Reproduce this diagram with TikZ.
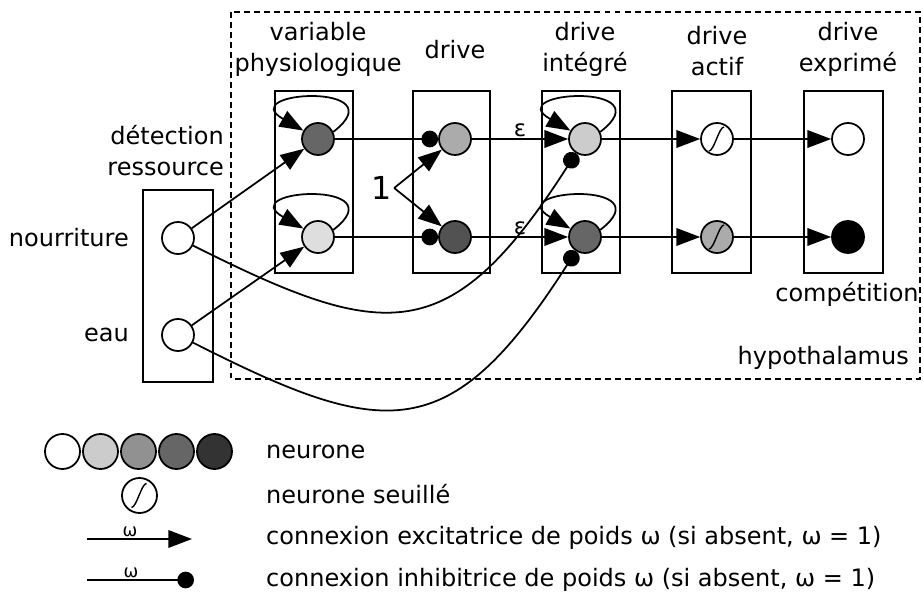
\documentclass[tikz,border=0pt]{standalone}
\usepackage{fontspec}
\setmainfont{DejaVu Sans}
\usetikzlibrary{arrows.meta,positioning}
\definecolor{grisA}{gray}{0.87}
\definecolor{grisB}{gray}{0.8}
\definecolor{grisC}{gray}{0.67}
\definecolor{grisD}{gray}{0.4}
\definecolor{grisE}{gray}{0.32}
\definecolor{grisF}{gray}{0.2}

\begin{document}
\begin{tikzpicture}[x=0.02cm,y=-0.02cm,font=\fontsize{13.66}{17.6}\selectfont]
\tikzstyle{neurone}=[draw=black,circle,line width=1pt,minimum size=0.64cm,inner sep=0pt]
\tikzstyle{seuil}=[neurone,path picture={\draw[line width=0.8pt] ([shift={(-8,12)}]path picture bounding box.center) .. controls +(5,0) and +(-5,0) .. ([shift={(7,-12)}]path picture bounding box.center);}]
\tikzstyle{boite}=[draw=black,line width=1.2pt]
\tikzstyle{exc}=[line width=1pt,-{Triangle[length=13.5pt,width=10pt]}]
\tikzstyle{inh}=[line width=1pt,-{Circle[length=9.5pt]}]
\tikzstyle{petit}=[font=\fontsize{13}{15}\selectfont,inner sep=1pt]
\useasboundingbox (0,0) rectangle (923,594);
% hypothalamus et boites
\draw[line width=0.9pt,dash pattern=on 3.4pt off 2.3pt] (231,12) rectangle (920,379);
\draw[boite] (143,190) rectangle (213,382);
\draw[boite] (275,91) rectangle (353,273);
\draw[boite] (413,91) rectangle (490,273);
\draw[boite] (542,91) rectangle (620,273);
\draw[boite] (672,91) rectangle (751,273);
\draw[boite] (804,91) rectangle (883,273);
% titres
\node[align=center] (lphysio) at (318,49) {variable\\physiologique};
\node (ldrive) at (455,50) {drive};
\node[align=center] (lintegre) at (585,49) {drive\\intégré};
\node[align=center] (lactif) at (717,51) {drive\\actif};
\node[align=center] (lexprime) at (848,49) {drive\\exprimé};
\node[align=right,anchor=east] (ldetect) at (230,151) {détection\\ressource};
\node[anchor=east] (lnour) at (135,238) {nourriture};
\node[anchor=east] (leau) at (135,335) {eau};
\node (lcomp) at (847,294) {compétition};
\node[anchor=east] (lhypo) at (915,358) {hypothalamus};
% neurones
\node[neurone,fill=white] (n1) at (178,238) {};
\node[neurone,fill=white] (n2) at (178,335) {};
\node[neurone,fill=grisD] (p1) at (318,139) {};
\node[neurone,fill=grisA] (p2) at (318,237) {};
\node[neurone,fill=grisC] (d1) at (455,139) {};
\node[neurone,fill=grisE] (d2) at (455,237) {};
\node[neurone,fill=grisB] (i1) at (585,139) {};
\node[neurone,fill=grisD] (i2) at (585,237) {};
\node[seuil,fill=white] (a1) at (717,139) {};
\node[seuil,fill=grisC] (a2) at (717,237) {};
\node[neurone,fill=white] (e1) at (848,139) {};
\node[neurone,fill=black] (e2) at (848,237) {};
\node[font=\fontsize{18}{20}\selectfont,inner sep=1pt] (un) at (382,188) {1};
% connexions
\draw[exc] (n1) -- (p1);
\draw[exc] (n2) -- (p2);
\draw[exc] (p1.25) .. controls +(65,-50) and +(-70,-40) .. (p1.150);
\draw[exc] (p2.25) .. controls +(65,-50) and +(-70,-40) .. (p2.150);
\draw[inh] (p1) -- (d1);
\draw[inh] (p2) -- (d2);
\draw[exc] (un.east) -- (d1);
\draw[exc] (un.east) -- (d2);
\draw[exc] (d1) -- node[above,petit] {ε} (i1);
\draw[exc] (d2) -- node[above,petit] {ε} (i2);
\draw[exc] (i1.25) .. controls +(65,-50) and +(-70,-40) .. (i1.150);
\draw[exc] (i2.25) .. controls +(65,-50) and +(-70,-40) .. (i2.150);
\draw[inh] (n1) .. controls (385,342) and (450,350) .. (i1);
\draw[inh] (n2) .. controls (385,440) and (450,448) .. (i2);
\draw[exc] (i1) -- (a1);
\draw[exc] (i2) -- (a2);
\draw[exc] (a1) -- (e1);
\draw[exc] (a2) -- (e2);
% legende
\foreach \g [count=\k] in {white,grisB,grisC!85!black,grisD,grisF}
  \node[neurone,fill=\g,minimum size=0.7cm] (leg\k) at ({62.5+38*(\k-1)},451.5) {};
\node[seuil,fill=white,minimum size=0.7cm] (legs) at (139.5,495.5) {};
\coordinate (ea) at (87,539);
\coordinate (eb) at (192,539);
\coordinate (ia) at (87,580);
\coordinate (ib) at (194,580);
\draw[exc] (ea) -- node[above,petit,pos=0.41,font=\fontsize{10}{12}\selectfont] {ω} (eb);
\draw[inh] (ia) -- node[above,petit,pos=0.41,font=\fontsize{10}{12}\selectfont] {ω} (ib);
\node[anchor=west] (tneur) at (260,451.5) {neurone};
\node[anchor=west] (tseuil) at (260,494) {neurone seuillé};
\node[anchor=west] (texc) at (260,538) {connexion excitatrice de poids ω (si absent, ω = 1)};
\node[anchor=west] (tinh) at (260,580) {connexion inhibitrice de poids ω (si absent, ω = 1)};
\end{tikzpicture}
\end{document}
